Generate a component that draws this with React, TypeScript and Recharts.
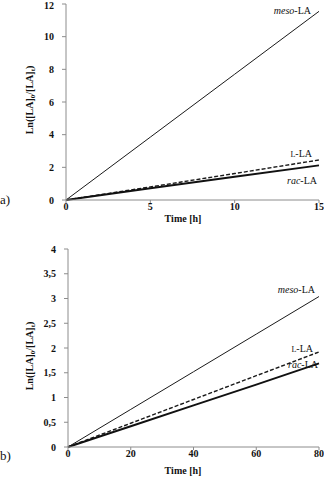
import React from 'react';
import { LineChart, Line, XAxis, YAxis, Label } from 'recharts';

// panel a) – first 15 h
const timesA = [0, 5, 10, 15];
const mesoA = [0, 3.85, 7.7, 11.55];
const lLaA = [0, 0.8, 1.62, 2.45];
const racA = [0, 0.72, 1.42, 2.12];
const xTicksA = [0, 5, 10, 15];
const yTicksA = [0, 2, 4, 6, 8, 10, 12];

// panel b) – 80 h
const timesB = [0, 20, 40, 60, 80];
const mesoB = [0, 0.76, 1.52, 2.28, 3.04];
const lLaB = [0, 0.48, 0.96, 1.44, 1.92];
const racB = [0, 0.42, 0.84, 1.26, 1.69];
const xTicksB = [0, 20, 40, 60, 80];
const yTicksB = [0, 0.5, 1, 1.5, 2, 2.5, 3, 3.5, 4];

const FONT = '"Liberation Serif", "DejaVu Serif", serif';
const AXIS_GREY = '#8c8c8c';

type Offset = { dx: number; dy: number };

const seriesName = (kind: string) => {
  if (kind === 'meso')
    return (
      <>
        <tspan fontStyle="italic">meso</tspan>
        <tspan>-LA</tspan>
      </>
    );
  if (kind === 'rac')
    return (
      <>
        <tspan fontStyle="italic">rac</tspan>
        <tspan>-LA</tspan>
      </>
    );
  return (
    <>
      <tspan fontSize={8}>L</tspan>
      <tspan>-LA</tspan>
    </>
  );
};

const endLabel = (kind: string, last: number, off: Offset) => (props: any) => {
  if (props.index !== last) return null;
  return (
    <text
      key={kind}
      x={props.x + off.dx}
      y={props.y + off.dy}
      textAnchor="end"
      fontFamily={FONT}
      fontSize={10}
      fill="#111"
    >
      {seriesName(kind)}
    </text>
  );
};

const yTitle = (shiftY: number) => (props: any) => {
  const vb = props.viewBox || { x: 0, y: 0, width: 0, height: 0 };
  const cx = 33;
  const cy = vb.y + vb.height / 2 + shiftY;
  return (
    <text
      x={cx}
      y={cy}
      transform={`rotate(-90, ${cx}, ${cy})`}
      textAnchor="middle"
      fontFamily={FONT}
      fontWeight="bold"
      fontSize={10}
      fill="#111"
    >
      Ln([LA]<tspan fontSize={7} dy={2}>0</tspan>
      <tspan dy={-2}>/[LA]</tspan>
      <tspan fontSize={7} dy={2}>t</tspan>
      <tspan dy={-2}>)</tspan>
    </text>
  );
};

const xTitle = (cx: number, baseline: number) => () => (
  <text
    x={cx}
    y={baseline}
    textAnchor="middle"
    fontFamily={FONT}
    fontWeight="bold"
    fontSize={10}
    fill="#111"
  >
    Time [h]
  </text>
);

interface PanelProps {
  tag: string;
  times: number[];
  meso: number[];
  lLa: number[];
  rac: number[];
  xTicks: number[];
  yTicks: number[];
  height: number;
  margin: { top: number; right: number; left: number; bottom: number };
  yWidth: number;
  xHeight: number;
  tagBaseline: number;
  titleBaseline: number;
  yTitleShift: number;
  offsets: { meso: Offset; lLa: Offset; rac: Offset };
  comma?: boolean;
}

const Panel: React.FC<PanelProps> = (p) => {
  const data = p.times.map((t, i) => ({ t, meso: p.meso[i], lLa: p.lLa[i], rac: p.rac[i] }));
  const last = data.length - 1;
  const tickStyle = { fontFamily: FONT, fontWeight: 'bold', fontSize: 10, fill: '#111' };

  return (
    <div style={{ position: 'relative', width: 324, height: p.height }}>
      <LineChart width={324} height={p.height} data={data} margin={p.margin}>
        <XAxis
          dataKey="t"
          type="number"
          domain={[p.xTicks[0], p.xTicks[p.xTicks.length - 1]]}
          ticks={p.xTicks}
          height={p.xHeight}
          tickSize={3}
          tickMargin={0}
          stroke={AXIS_GREY}
          tick={tickStyle}
        >
          <Label content={xTitle(183, p.titleBaseline)} />
        </XAxis>
        <YAxis
          type="number"
          domain={[p.yTicks[0], p.yTicks[p.yTicks.length - 1]]}
          ticks={p.yTicks}
          width={p.yWidth}
          tickSize={4}
          tickMargin={8}
          stroke={AXIS_GREY}
          tick={tickStyle}
          tickFormatter={(v: number) => (p.comma ? String(v).replace('.', ',') : String(v))}
        >
          <Label content={yTitle(p.yTitleShift)} />
        </YAxis>
        <Line
          dataKey="meso"
          stroke="#1a1a1a"
          strokeWidth={1}
          dot={false}
          isAnimationActive={false}
          label={endLabel('meso', last, p.offsets.meso)}
        />
        <Line
          dataKey="lLa"
          stroke="#1a1a1a"
          strokeWidth={1.4}
          strokeDasharray="4 2"
          dot={false}
          isAnimationActive={false}
          label={endLabel('l', last, p.offsets.lLa)}
        />
        <Line
          dataKey="rac"
          stroke="#111"
          strokeWidth={2}
          dot={false}
          isAnimationActive={false}
          label={endLabel('rac', last, p.offsets.rac)}
        />
      </LineChart>
      <div
        style={{
          position: 'absolute',
          left: 0,
          top: p.tagBaseline - 12,
          fontFamily: FONT,
          fontSize: 13,
          lineHeight: '14px',
          color: '#111',
        }}
      >
        {p.tag}
      </div>
    </div>
  );
};

export default function App() {
  return (
    <div style={{ position: 'absolute', left: 0, top: 0, width: 324, height: 479, background: '#fff' }}>
      <Panel
        tag="a)"
        times={timesA}
        meso={mesoA}
        lLa={lLaA}
        rac={racA}
        xTicks={xTicksA}
        yTicks={yTicksA}
        height={240}
        margin={{ top: 4, right: 5, left: 0, bottom: 0 }}
        yWidth={66}
        xHeight={40}
        tagBaseline={205}
        titleBaseline={221.5}
        yTitleShift={-2}
        offsets={{
          meso: { dx: -8, dy: 2.5 },
          lLa: { dx: -7, dy: -2.5 },
          rac: { dx: -2, dy: 18.5 },
        }}
      />
      <Panel
        tag="b)"
        times={timesB}
        meso={mesoB}
        lLa={lLaB}
        rac={racB}
        xTicks={xTicksB}
        yTicks={yTicksB}
        height={239}
        margin={{ top: 9, right: 5, left: 0, bottom: 0 }}
        yWidth={68}
        xHeight={32}
        tagBaseline={221}
        titleBaseline={234}
        yTitleShift={8}
        offsets={{
          meso: { dx: -4, dy: -3.5 },
          lLa: { dx: -6, dy: 0 },
          rac: { dx: -1, dy: 5 },
        }}
        comma
      />
    </div>
  );
}
